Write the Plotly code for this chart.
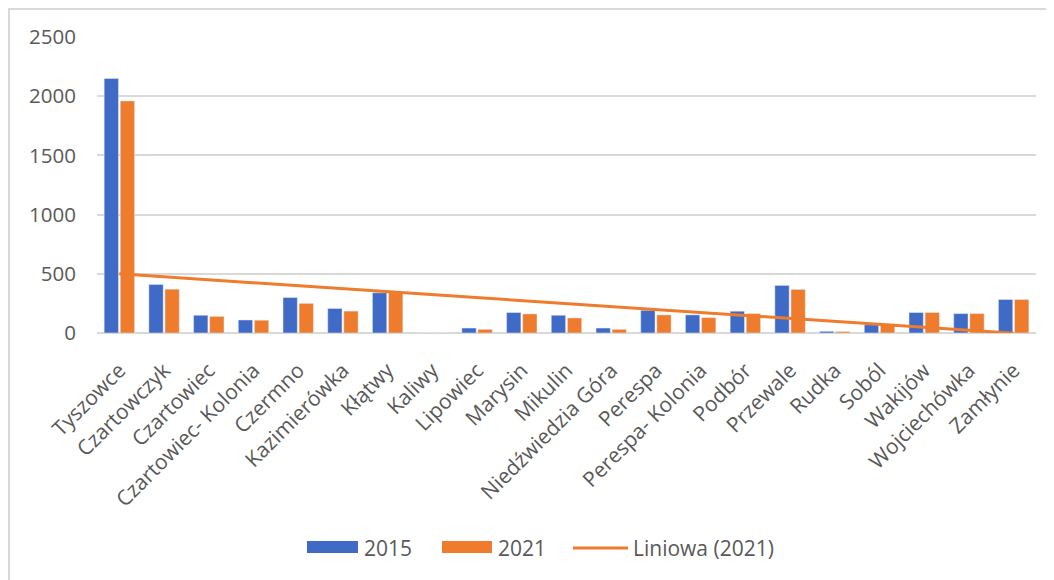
import numpy as np
import plotly.graph_objects as go

categories = ["Tyszowce", "Czartowczyk", "Czartowiec", "Czartowiec- Kolonia", "Czermno",
              "Kazimierówka", "Kłątwy", "Kaliwy", "Lipowiec", "Marysin", "Mikulin",
              "Niedźwiedzia Góra", "Perespa", "Perespa- Kolonia", "Podbór", "Przewale",
              "Rudka", "Soból", "Wakijów", "Wojciechówka", "Zamłynie"]
values_2015 = [2150, 410, 150, 110, 300, 207, 340, 0, 42, 173, 150,
               42, 192, 153, 184, 402, 14, 70, 173, 164, 283]
values_2021 = [1960, 370, 140, 108, 250, 185, 340, 0, 31, 161, 127,
               31, 153, 130, 164, 368, 12, 75, 173, 164, 283]
y_ticks = [0, 500, 1000, 1500, 2000, 2500]

BLUE = "#3f6bc6"
ORANGE = "#ef7b2c"
GRID = "#d9d9d9"
TXT = "#595959"
FONT = "Open Sans"

# linear trend of the 2021 series (as Excel's "Liniowa" trendline)
xi = np.arange(len(categories))
slope, intercept = np.polyfit(xi, values_2021, 1)
trend = slope * xi + intercept

OFF = 8  # page body margin
W, H = 1054 - OFF, 580 - OFF
L, R, T, B = 97 - OFF, 1036 - OFF, 37 - OFF, 333 - OFF


def px(x):
    return (x - OFF - L) / (R - L)


def py(y):
    return (B - (y - OFF)) / (B - T)


fig = go.Figure()
fig.add_trace(go.Bar(x=categories, y=values_2015, name="2015", marker_color=BLUE,
                     showlegend=False))
fig.add_trace(go.Bar(x=categories, y=values_2021, name="2021", marker_color=ORANGE,
                     showlegend=False))
fig.add_trace(go.Scatter(x=categories, y=trend, mode="lines", name="Liniowa (2021)",
                         line=dict(color=ORANGE, width=3), showlegend=False,
                         cliponaxis=False))

shapes = [
    # outer chart border (top and left visible)
    dict(type="line", xref="paper", yref="paper", x0=px(8), x1=px(1054), y0=py(9), y1=py(9),
         line=dict(color=GRID, width=2)),
    dict(type="line", xref="paper", yref="paper", x0=px(9), x1=px(9), y0=py(8), y1=py(580),
         line=dict(color=GRID, width=2)),
    # legend symbols
    dict(type="rect", xref="paper", yref="paper", x0=px(307), x1=px(358), y0=py(553), y1=py(541),
         fillcolor=BLUE, line=dict(width=0)),
    dict(type="rect", xref="paper", yref="paper", x0=px(442), x1=px(492), y0=py(553), y1=py(541),
         fillcolor=ORANGE, line=dict(width=0)),
    dict(type="line", xref="paper", yref="paper", x0=px(573), x1=px(628), y0=py(548), y1=py(548),
         line=dict(color=ORANGE, width=3)),
]
annotations = [
    dict(text="2015", x=px(362), y=py(548), xref="paper", yref="paper", xanchor="left",
         yanchor="middle", showarrow=False, font=dict(family=FONT, size=21, color=TXT)),
    dict(text="2021", x=px(496), y=py(548), xref="paper", yref="paper", xanchor="left",
         yanchor="middle", showarrow=False, font=dict(family=FONT, size=21, color=TXT)),
    dict(text="Liniowa (2021)", x=px(631), y=py(548), xref="paper", yref="paper", xanchor="left",
         yanchor="middle", showarrow=False, font=dict(family=FONT, size=21, color=TXT)),
]

fig.update_layout(
    width=W, height=H,
    margin=dict(l=L, r=W - R, t=T, b=H - B, autoexpand=False),
    paper_bgcolor="white", plot_bgcolor="white",
    barmode="group", bargap=0.28, bargroupgap=0.11,
    font=dict(family=FONT, size=21, color=TXT),
    shapes=shapes, annotations=annotations,
    showlegend=False,
)
fig.update_xaxes(tickangle=-45, showgrid=False, showline=False, ticks="",
                 ticklabelstandoff=20,
                 tickfont=dict(family=FONT, size=21, color=TXT))
fig.update_yaxes(range=[0, 2500], tickvals=y_ticks, showgrid=True, gridcolor=GRID, gridwidth=2,
                 zeroline=True, zerolinecolor=GRID, zerolinewidth=2, showline=False,
                 ticks="", ticklabelstandoff=20,
                 tickfont=dict(family=FONT, size=20.5, color=TXT))

fig.write_html("out.html")
